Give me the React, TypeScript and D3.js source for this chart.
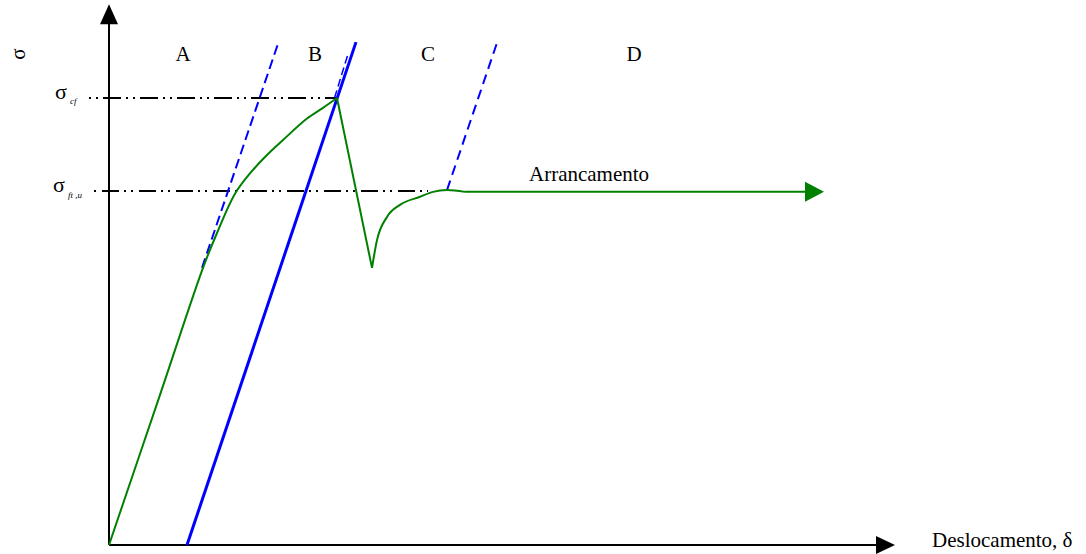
import React from "react";
import * as d3 from "d3";

// Stress–slip response of a fibre being pulled out of the matrix.
// δ: displacement (arbitrary units), σ: stress (σ_cf = 100).
const sigmaCf = 100;
const sigmaFtu = 79.2;

// Rising branch up to the peak σ_cf
const riseDelta = [0, 5.1, 9.4, 10.8, 12.6, 14.2, 15.6, 17.4, 19.8, 21.4, 22.8];
const riseSigma = [0, 33.6, 62.0, 69.8, 78.6, 83.4, 86.8, 90.6, 95.4, 97.8, 100];
// Sudden drop after debonding
const dropDelta = [22.8, 26.3];
const dropSigma = [100, 62.0];
// Recovery towards the pull-out plateau
const recoverDelta = [26.3, 26.8, 27.8, 29.1, 31.1, 32.4, 33.8, 35.6];
const recoverSigma = [62.0, 68.2, 73.4, 76.1, 77.9, 79.0, 79.4, 79.0];
// Pull-out ("Arrancamento") plateau
const plateauDelta = [35.6, 69.6];
const plateauSigma = [79.0, 79.0];

// Elastic unloading lines
const unloadBDelta = [7.8, 24.7];
const unloadBSigma = [0, 112.5];
const unloadADelta = [9.3, 17.0];
const unloadASigma = [62.0, 112.8];
const unloadCDelta = [33.8, 38.9];
const unloadCSigma = [79.4, 113.0];
const unloadBDashDelta = [22.7, 24.1];
const unloadBDashSigma = [100, 110.2];

// Reference levels
const cfLineDelta = [-2.3, 22.8];
const ftuLineDelta = [-1.6, 31.9];

const stageLabels = ["A", "B", "C", "D"];
const stageDelta = [7.4, 20.6, 31.9, 52.5];

const W = 1086;
const H = 554;

const x = d3.scaleLinear().domain([0, 80]).range([109, 909]);
const y = d3.scaleLinear().domain([0, 100]).range([545, 98]);

type Pt = [number, number];
const zip = (a: number[], b: number[]): Pt[] => a.map((v, i) => [v, b[i]]);

const lineLinear = d3
  .line<Pt>()
  .x((d) => x(d[0]))
  .y((d) => y(d[1]));
const lineSmooth = d3
  .line<Pt>()
  .x((d) => x(d[0]))
  .y((d) => y(d[1]))
  .curve(d3.curveMonotoneX);
const lineRound = d3
  .line<Pt>()
  .x((d) => x(d[0]))
  .y((d) => y(d[1]))
  .curve(d3.curveCatmullRom.alpha(0.5));

const GREEN = "#008000";
const BLUE = "#0000ff";
const SERIF = "'Liberation Serif', 'Times New Roman', serif";

export default function App() {
  const axisTop = y(121);
  const axisRight = x(78.6);
  const plateauEnd = plateauDelta[plateauDelta.length - 1];

  return (
    <svg
      width={W}
      height={H}
      style={{ position: "absolute", left: 0, top: 0, background: "#fff" }}
      fontFamily={SERIF}
    >
      {/* axes */}
      <line x1={x(0)} y1={y(0)} x2={x(0)} y2={axisTop + 18} stroke="#000" strokeWidth={2} />
      <path
        d={`M${x(0)},${axisTop} L${x(0) - 9},${axisTop + 20} L${x(0) + 9},${axisTop + 20} Z`}
        fill="#000"
      />
      <line x1={x(0)} y1={y(0)} x2={axisRight - 18} y2={y(0)} stroke="#000" strokeWidth={2} />
      <path
        d={`M${axisRight},${y(0)} L${axisRight - 19},${y(0) - 9} L${axisRight - 19},${y(0) + 9} Z`}
        fill="#000"
      />

      {/* reference levels */}
      <path
        d={lineLinear([
          [cfLineDelta[0], sigmaCf],
          [cfLineDelta[1], sigmaCf],
        ])!}
        stroke="#000"
        strokeWidth={2}
        fill="none"
        strokeDasharray="18,5,2,5,2,5"
        strokeDashoffset={20}
      />
      <path
        d={lineLinear([
          [ftuLineDelta[0], sigmaFtu],
          [ftuLineDelta[1], sigmaFtu],
        ])!}
        stroke="#000"
        strokeWidth={2}
        fill="none"
        strokeDasharray="17,5,2,5,2,6"
        strokeDashoffset={28}
      />

      {/* unloading lines */}
      <path d={lineLinear(zip(unloadBDelta, unloadBSigma))!} stroke={BLUE} strokeWidth={3} fill="none" />
      <path
        d={lineLinear(zip(unloadBDashDelta, unloadBDashSigma))!}
        stroke={BLUE}
        strokeWidth={1.5}
        fill="none"
        strokeDasharray="8,4"
        transform="translate(-1.5,0)"
      />
      <path
        d={lineLinear(zip(unloadADelta, unloadASigma))!}
        stroke={BLUE}
        strokeWidth={2}
        fill="none"
        strokeDasharray="10,5"
      />
      <path
        d={lineLinear(zip(unloadCDelta, unloadCSigma))!}
        stroke={BLUE}
        strokeWidth={2}
        fill="none"
        strokeDasharray="10,6"
      />

      {/* response curve */}
      <g stroke={GREEN} strokeWidth={2} fill="none" strokeLinejoin="round">
        <path d={lineRound(zip(riseDelta, riseSigma))!} />
        <path d={lineLinear(zip(dropDelta, dropSigma))!} />
        <path d={lineSmooth(zip(recoverDelta, recoverSigma))!} />
        <path d={lineLinear(zip(plateauDelta, plateauSigma))!} />
      </g>
      <path
        d={`M${x(plateauEnd) + 19},${y(plateauSigma[1])} L${x(plateauEnd)},${y(plateauSigma[1]) - 10} L${x(plateauEnd)},${y(plateauSigma[1]) + 10} Z`}
        fill={GREEN}
      />

      {/* stage labels */}
      {stageLabels.map((s, i) => (
        <text key={s} x={x(stageDelta[i])} y={61} fontSize={21} textAnchor="middle" fill="#000">
          {s}
        </text>
      ))}

      {/* axis titles */}
      <text x={18} y={54} fontSize={21} fill="#000" textAnchor="middle" dominantBaseline="central" transform="rotate(-90,18,54)">
        σ
      </text>
      <text x={932} y={547} fontSize={21} fill="#000">
        Deslocamento, δ
      </text>
      <text x={529} y={181} fontSize={21} fill="#000">
        Arrancamento
      </text>

      {/* level labels */}
      <text x={55} y={y(sigmaCf) + 1} fontSize={22} fill="#000">
        σ
      </text>
      <text x={70} y={y(sigmaCf) + 6} fontSize={9} fontStyle="italic" fill="#000">
        cf
      </text>
      <text x={53} y={y(sigmaFtu) + 1} fontSize={22} fill="#000">
        σ
      </text>
      <text x={68} y={y(sigmaFtu) + 7} fontSize={9} fontStyle="italic" fill="#000">
        ft ,u
      </text>
    </svg>
  );
}
